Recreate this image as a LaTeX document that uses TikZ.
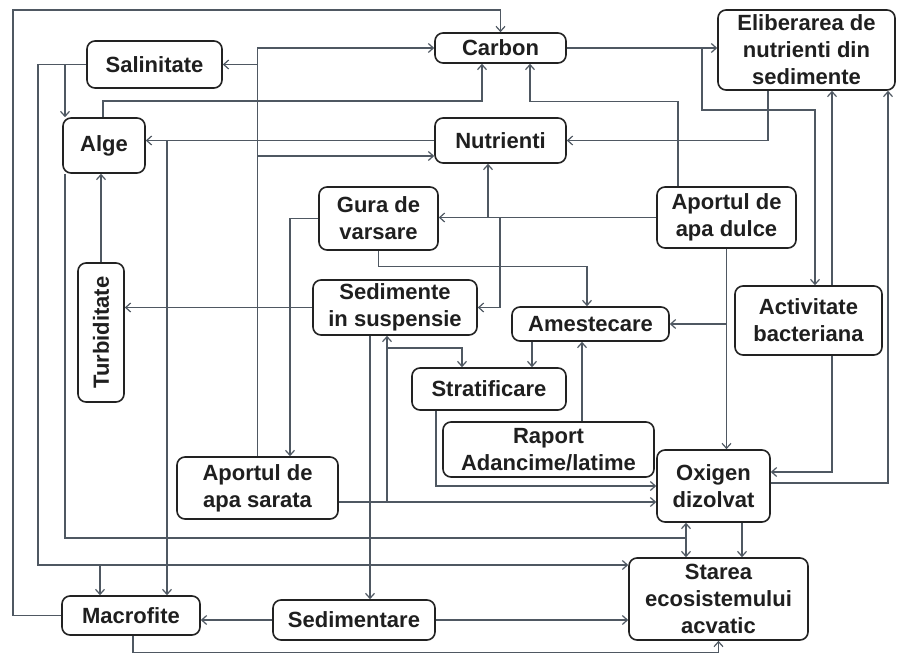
\documentclass[tikz,border=0pt]{standalone}
\usepackage{fontspec}
\usepackage{graphicx}
\setmainfont{Liberation Sans}
\usetikzlibrary{arrows.meta,calc}
\definecolor{linec}{HTML}{4F5862}
\definecolor{boxc}{HTML}{222222}
\begin{document}
\begin{tikzpicture}[x=1pt,y=-1pt,
  box/.style={draw=boxc,line width=1.6pt,rounded corners=8pt,fill=white,align=center,inner sep=0pt,
    font=\fontsize{22}{27}\selectfont\bfseries,text=black!88},
  bbox/.style={box},
  conn/.style={draw=linec,line width=1.2pt},
  arr/.style={conn,-{Straight Barb[length=5pt,width=9pt]}}]
\fill[white] (0,0) rectangle (897,658);
\useasboundingbox (0,0) rectangle (897,658);

% nodes
\node[bbox,minimum width=135pt,minimum height=47pt] (sal) at (154.5,64.5) {Salinitate};
\node[bbox,minimum width=131pt,minimum height=30pt] (carb) at (500.5,48) {Carbon};
\node[box,minimum width=177pt,minimum height=80pt] (elib) at (806.5,50) {Eliberarea de\\nutrienti din\\sedimente};
\node[bbox,minimum width=82pt,minimum height=55pt] (alge) at (104,145.5) {Alge};
\node[bbox,minimum width=131pt,minimum height=45pt] (nutr) at (500.5,140.5) {Nutrienti};
\node[box,minimum width=119pt,minimum height=63pt] (gura) at (378.5,218.5) {Gura de\\varsare};
\node[box,minimum width=139pt,minimum height=61pt] (dulce) at (726.5,217.5) {Aportul de\\apa dulce};
\node[box,minimum width=46pt,minimum height=139pt] (turb) at (101,332.5) {\rotatebox{90}{Turbiditate}};
\node[box,minimum width=164pt,minimum height=55pt] (sedsus) at (395,307.5) {Sedimente\\in suspensie};
\node[bbox,minimum width=157pt,minimum height=34pt] (ames) at (590.5,324) {Amestecare};
\node[box,minimum width=147pt,minimum height=69pt] (activ) at (808.5,320.5) {Activitate\\bacteriana};
\node[bbox,minimum width=154pt,minimum height=42pt] (strat) at (489,389) {Stratificare};
\node[box,minimum width=211pt,minimum height=55pt] (raport) at (548.5,449.5) {Raport\\Adancime/latime};
\node[box,minimum width=113pt,minimum height=72pt] (oxi) at (713.5,486) {Oxigen\\dizolvat};
\node[box,minimum width=161pt,minimum height=62pt] (sarata) at (257.5,488) {Aportul de\\apa sarata};
\node[box,minimum width=179pt,minimum height=82pt] (starea) at (718.5,599) {Starea\\ecosistemului\\acvatic};
\node[bbox,minimum width=138pt,minimum height=39pt] (macro) at (131,615.5) {Macrofite};
\node[bbox,minimum width=162pt,minimum height=40pt] (sedim) at (354,620) {Sedimentare};

% bend coordinates
\coordinate (p565) at (38,565);
\coordinate (p100) at (100,565);
\coordinate (p482) at (482,101);
\coordinate (p686) at (686,538);
\coordinate (p167) at (167,140.5);
\coordinate (p156) at (0,156);
\coordinate (p488) at (488,217.5);
\coordinate (p500) at (500,217.5);
\coordinate (p702) at (702,48);
\coordinate (p815) at (815,110);
\coordinate (a832) at ([xshift=23.5pt]activ.north);
\coordinate (s370) at ([xshift=-25pt]sedsus.south);
\coordinate (s502) at ([yshift=-14pt]sarata.east);
\coordinate (p387) at (387,502);
\coordinate (p348) at (387,348);
\coordinate (a532) at ([xshift=-58.5pt]ames.south);
\coordinate (r582) at ([xshift=33.5pt]raport.north);
\coordinate (o742) at ([xshift=28.5pt]oxi.south);

% connectors
\draw[arr] (macro.west) -| (13,10) -| (carb.north);
\draw[arr] (sal.west) -| ([xshift=-39pt]alge.north);
\draw[arr] (sal.west) -| (p565) -- (p565 -| starea.west);
\draw[arr] (p100) -- (p100 |- macro.north);
\draw[arr] ([xshift=-1pt]alge.north) |- (p482) -- (p482 |- carb.south);
\draw[conn] ([xshift=-39pt]alge.south) |- (p686);
\draw[arr] (p686) -- (p686 |- oxi.south);
\draw[arr] (p686) -- (p686 |- starea.north);
\draw[arr] (nutr.west) -- (nutr.west -| alge.east);
\draw[arr] (p167) -- (p167 |- macro.north);
\draw[arr] (turb.north) -- (turb.north |- alge.south);
\draw[arr] (sedsus.west) -- (sedsus.west -| turb.east);
\draw[arr] (sarata.north) |- (carb.west);
\draw[arr] (sarata.north |- sal.east) -- (sal.east);
\draw[arr] (sarata.north |- p156) -- (p156 -| nutr.west);
\draw[arr] (gura.west) -| ([xshift=32.5pt]sarata.north);
\draw[arr] (gura.south) -- ++(0,16) -| ([xshift=-3.5pt]ames.north);
\draw[arr] (dulce.west) -- (dulce.west -| gura.east);
\draw[arr] (p488) -- (p488 |- nutr.south);
\draw[arr] (p500) |- (sedsus.east);
\draw[arr] ([xshift=-48.5pt]dulce.north) -- ++(0,-85) -| ([xshift=29.5pt]carb.south);
\draw[arr] (dulce.south) -- (dulce.south |- oxi.north);
\draw[arr] (dulce.south |- ames.east) -- (ames.east);
\draw[arr] (carb.east) -- (carb.east -| elib.west);
\draw[arr] (p702) |- (p815) -- (p815 |- activ.north);
\draw[arr] (a832) -- (a832 |- elib.south);
\draw[arr] ([xshift=23.5pt]activ.south) |- ([yshift=14pt]oxi.east);
\draw[arr] ([yshift=3pt]oxi.east) -| ([xshift=81.5pt]elib.south);
\draw[arr] ([xshift=-38.5pt]elib.south) |- (nutr.east);
\draw[arr] (s370) -- (s370 |- sedim.north);
\draw[arr] (s502) -- (s502 -| oxi.west);
\draw[arr] (p387) -- (p387 |- sedsus.south);
\draw[arr] (p348) -| ([xshift=-27pt]strat.north);
\draw[arr] (a532) -- (a532 |- strat.north);
\draw[arr] (r582) -- (r582 |- ames.south);
\draw[arr] ([xshift=-53pt]strat.south) |- (oxi.west);
\draw[arr] (o742) -- (o742 |- starea.north);
\draw[arr] (sedim.west) -- (sedim.west -| macro.east);
\draw[arr] (sedim.east) -- (sedim.east -| starea.west);
\draw[arr] ([xshift=2pt]macro.south) -- ++(0,17) -| (starea.south);
\end{tikzpicture}
\end{document}
